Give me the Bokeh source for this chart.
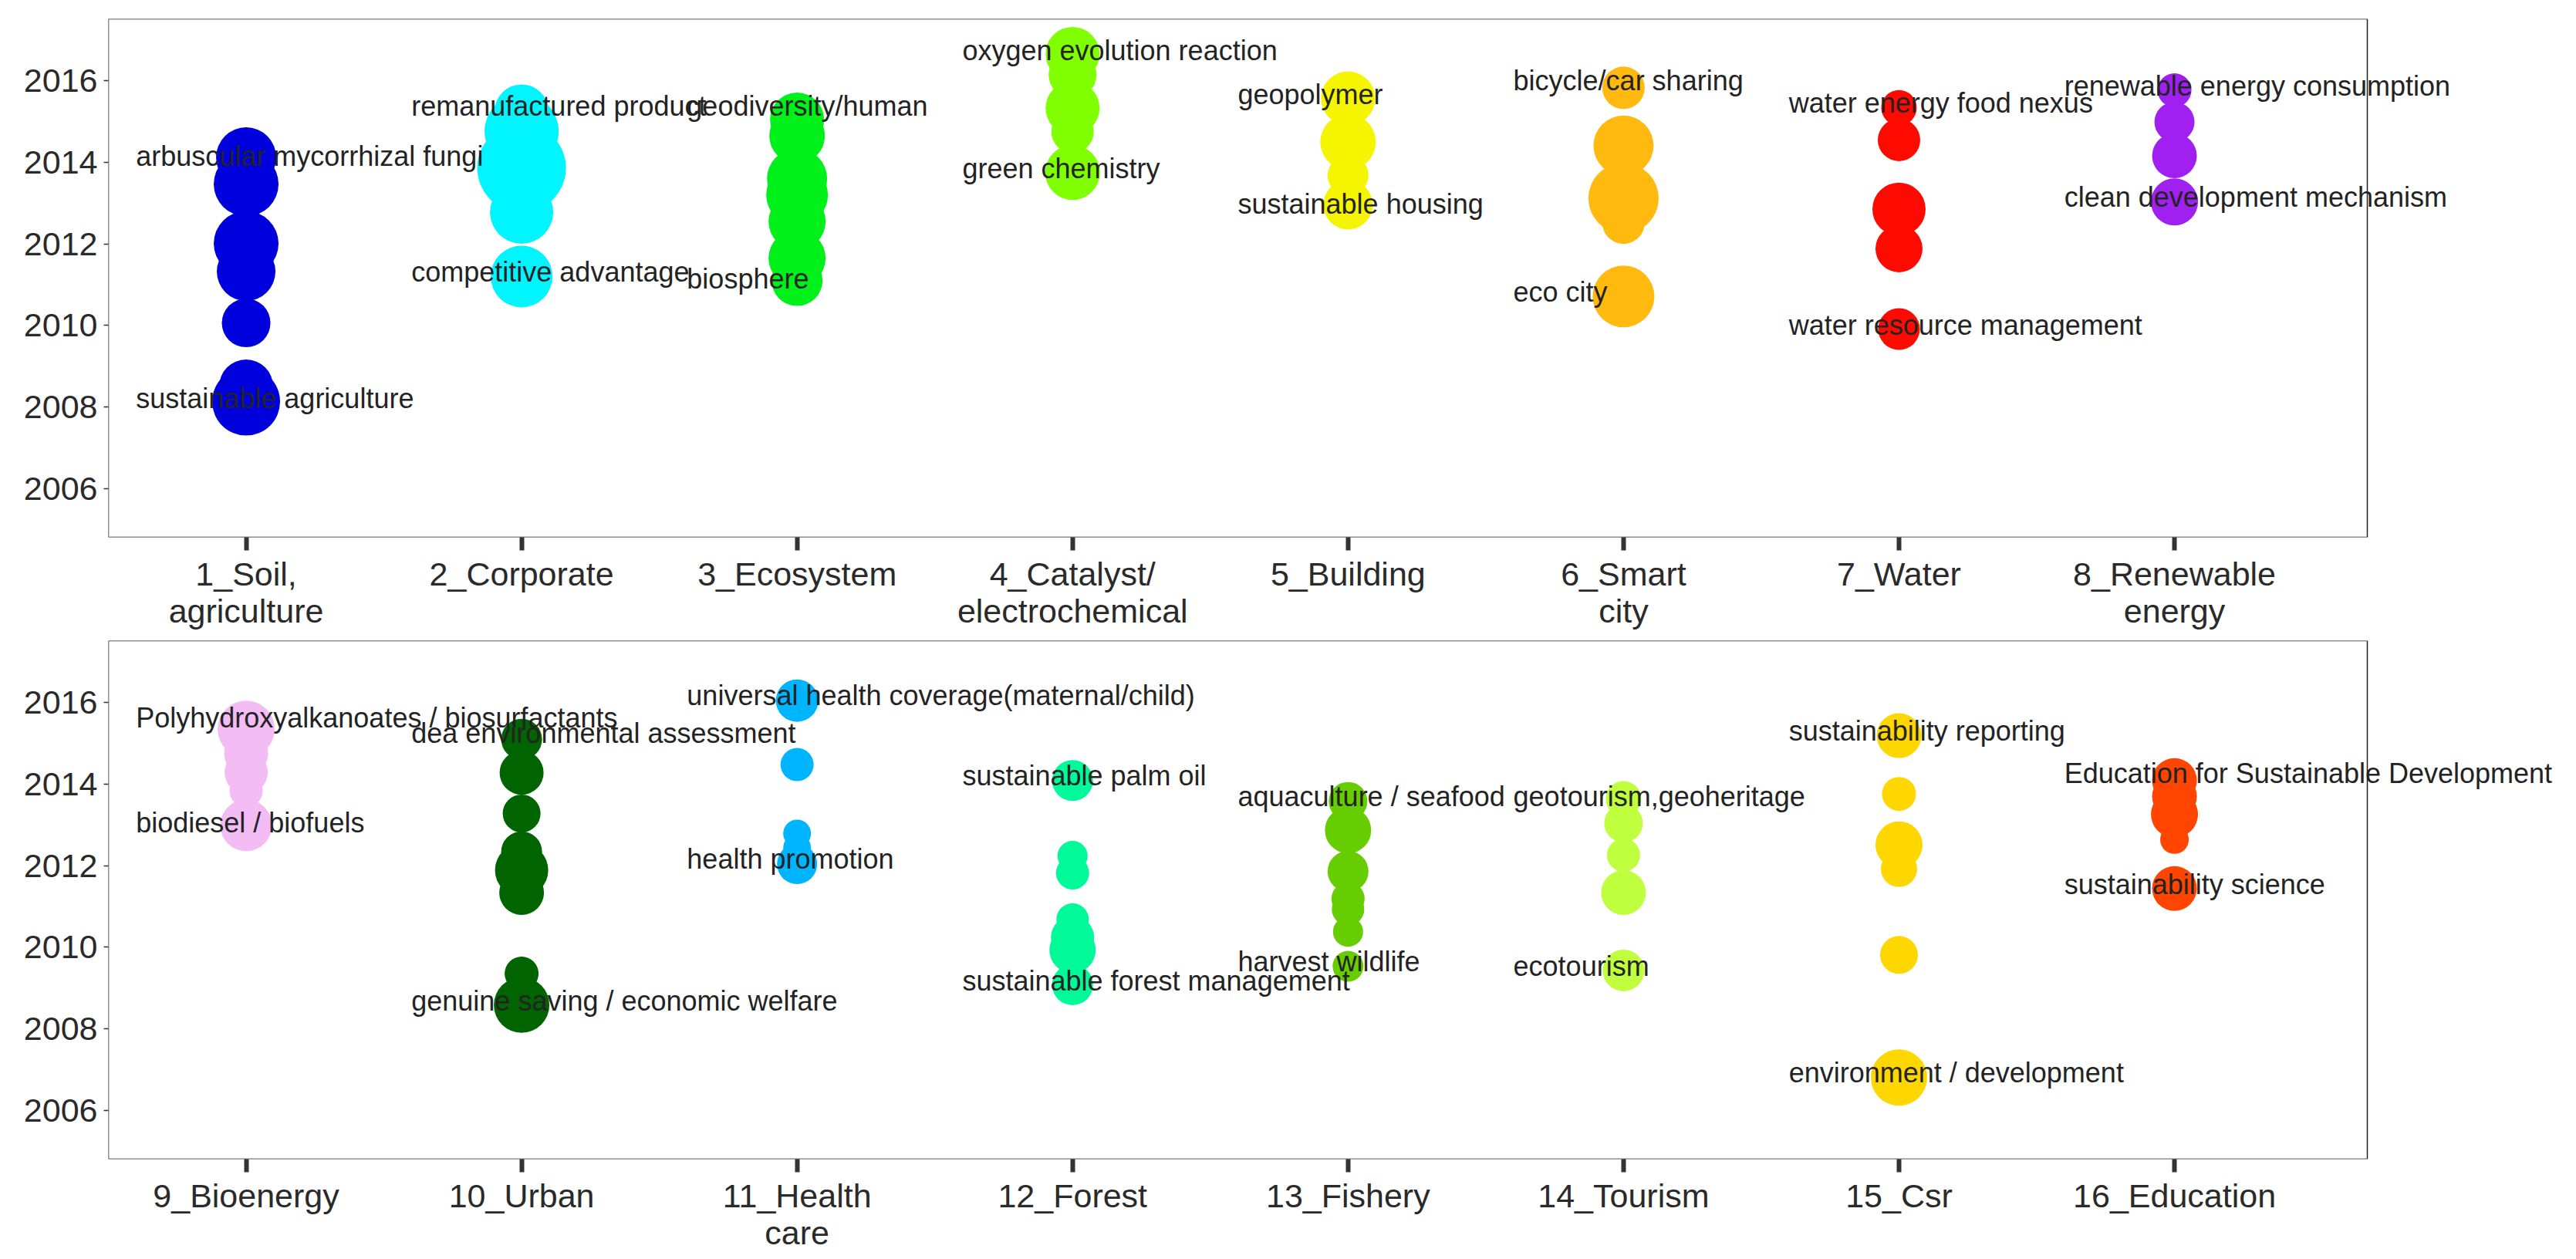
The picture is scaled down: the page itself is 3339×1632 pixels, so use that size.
from bokeh.plotting import figure
from bokeh.models import ColumnDataSource, LabelSet, FixedTicker, Range1d, BoxAnnotation
from bokeh.layouts import column
from bokeh.core.properties import value
from bokeh.embed import file_html
from bokeh.resources import INLINE

# ---------------- data ----------------
cluster_names = [
    "1_Soil,\nagriculture", "2_Corporate", "3_Ecosystem", "4_Catalyst/\nelectrochemical",
    "5_Building", "6_Smart\ncity", "7_Water", "8_Renewable\nenergy",
    "9_Bioenergy", "10_Urban", "11_Health\ncare", "12_Forest",
    "13_Fishery", "14_Tourism", "15_Csr", "16_Education",
]
cluster_colors = [
    "#0000DD", "#00F5FF", "#00F019", "#7FFF00", "#F5F500", "#FFB90F", "#FF0A00", "#A020F0",
    "#F4BCF4", "#006400", "#00B5FF", "#00FA9A", "#66CD00", "#C0FF3E", "#FFD700", "#FF4500",
]

bubble_cluster = (
    [1] * 7 + [2] * 5 + [3] * 7 + [4] * 5 + [5] * 4 + [6] * 5 + [7] * 5 + [8] * 4 +
    [9] * 5 + [10] * 8 + [11] * 5 + [12] * 7 + [13] * 7 + [14] * 5 + [15] * 6 + [16] * 5
)
bubble_year = [
    2014.12, 2013.47, 2012.01, 2011.32, 2010.06, 2008.5, 2008.13,
    2015.25, 2014.76, 2013.86, 2012.78, 2011.2,
    2015.05, 2014.65, 2013.6, 2013.2, 2012.55, 2011.65, 2011.1,
    2016.66, 2016.15, 2015.33, 2014.75, 2013.75,
    2015.57, 2014.5, 2013.68, 2012.96,
    2015.83, 2014.41, 2013.12, 2012.52, 2010.71,
    2015.34, 2014.55, 2012.85, 2011.88, 2009.91,
    2015.77, 2014.99, 2014.16, 2013.03,
    2015.35, 2014.75, 2014.29, 2013.84, 2012.99,
    2015.1, 2014.28, 2013.28, 2012.34, 2011.89, 2011.34, 2009.35, 2008.58,
    2016.05, 2014.48, 2012.79, 2012.44, 2012.04,
    2014.09, 2012.24, 2011.82, 2010.68, 2010.24, 2009.93, 2009.08,
    2013.58, 2012.87, 2011.86, 2011.19, 2010.93, 2010.38, 2009.53,
    2013.64, 2013.04, 2012.26, 2011.34, 2009.43,
    2015.19, 2013.76, 2012.51, 2011.92, 2009.81, 2006.80,
    2014.09, 2013.7, 2013.26, 2012.64, 2011.44,
]
bubble_size = [
    78, 84, 84, 76, 63, 70, 88,
    70, 96, 115, 82, 80,
    70, 72, 78, 80, 74, 74, 66,
    70, 62, 70, 55, 71,
    70, 72, 53, 64,
    55, 78, 91, 55, 80,
    46, 55, 69, 61, 54,
    44, 52, 58, 61,
    74, 57, 56, 43, 67,
    53, 57, 49, 53, 69, 58, 44, 72,
    55, 43, 36, 36, 52,
    53, 39, 43, 42, 56, 60, 53,
    50, 60, 53, 43, 42, 39, 40,
    46, 50, 43, 58, 54,
    58, 44, 61, 47, 49, 73,
    58, 58, 61, 37, 58,
]

label_cluster = [1, 1, 2, 2, 3, 3, 4, 4, 5, 5, 6, 6, 7, 7, 8, 8,
                 9, 9, 10, 10, 11, 11, 12, 12, 13, 13, 14, 14, 15, 15, 16, 16]
label_year = [
    2014.16, 2008.2, 2015.39, 2011.31, 2015.39, 2011.14, 2016.75, 2013.85,
    2015.66, 2012.98, 2016.0, 2010.81, 2015.45, 2010.0, 2015.87, 2013.15,
    2015.63, 2013.06, 2015.25, 2008.68, 2016.17, 2012.17, 2014.21, 2009.18,
    2013.69, 2009.65, 2013.69, 2009.53, 2015.3, 2006.92, 2014.26, 2011.54,
]
label_text = [
    "arbuscular mycorrhizal fungi", "sustainable agriculture",
    "remanufactured product", "competitive advantage",
    "geodiversity/human", "biosphere",
    "oxygen evolution reaction", "green chemistry",
    "geopolymer", "sustainable housing",
    "bicycle/car sharing", "eco city",
    "water energy food nexus", "water resource management",
    "renewable energy consumption", "clean development mechanism",
    "Polyhydroxyalkanoates / biosurfactants", "biodiesel / biofuels",
    "dea environmental assessment", "genuine saving / economic welfare",
    "universal health coverage(maternal/child)", "health promotion",
    "sustainable palm oil", "sustainable forest management",
    "aquaculture / seafood", "harvest wildlife",
    "geotourism,geoheritage", "ecotourism",
    "sustainability reporting", "environment / development",
    "Education for Sustainable Development", "sustainability science",
]

year_ticks = [2006, 2008, 2010, 2012, 2014, 2016]
year_range = (2004.8, 2017.52)
cat_range = (0.5, 8.7)

FONT = "Liberation Sans"
PX_PER_CAT = 2928 / (cat_range[1] - cat_range[0])
FRAME_W = 3185


def make_panel(panel, min_top, min_bottom):
    lo = panel * 8 + 1
    hi = lo + 7
    bx, by, bs, bc = [], [], [], []
    for c, y, s in zip(bubble_cluster, bubble_year, bubble_size):
        if lo <= c <= hi:
            bx.append(c - lo + 1)
            by.append(y)
            bs.append(s)
            bc.append(cluster_colors[c - 1])
    lx, ly, lt = [], [], []
    for c, y, t in zip(label_cluster, label_year, label_text):
        if lo <= c <= hi:
            lx.append(c - lo + 1 - 0.4)
            ly.append(y)
            lt.append(t)

    # frame extended to the right so that long labels are not clipped;
    # the visible panel border is drawn with a box at the real panel limits
    x_end = cat_range[0] + FRAME_W / PX_PER_CAT
    p = figure(
        frame_width=FRAME_W, frame_height=672,
        x_range=Range1d(cat_range[0], x_end), y_range=Range1d(*year_range),
        output_backend="svg", toolbar_location=None,
        min_border_left=140, min_border_right=4,
        min_border_top=min_top, min_border_bottom=min_bottom,
    )
    p.scatter(x=bx, y=by, size=bs, fill_color=bc, line_color=None,
              marker="circle")
    src = ColumnDataSource(dict(x=lx, y=ly, t=lt))
    p.add_layout(LabelSet(x="x", y="y", text="t", source=src,
                          text_align="left", text_baseline="middle",
                          text_font=value(FONT), text_font_size=value("36px"),
                          text_color=value("#232323")))
    p.add_layout(BoxAnnotation(left=cat_range[0], right=cat_range[1],
                               bottom=year_range[0], top=year_range[1],
                               fill_alpha=0, fill_color=None,
                               line_color="#222222", line_alpha=1.0,
                               line_width=1.5, line_dash="solid"))

    p.xgrid.visible = False
    p.ygrid.visible = False
    p.outline_line_color = None
    p.background_fill_color = "white"
    p.border_fill_color = "white"

    xa = p.xaxis[0]
    xa.ticker = FixedTicker(ticks=list(range(1, 9)))
    xa.major_label_overrides = {i + 1: cluster_names[lo - 1 + i] for i in range(8)}
    xa.axis_line_color = None
    xa.major_tick_line_color = "#333333"
    xa.major_tick_line_width = 6
    xa.major_tick_out = 17
    xa.major_tick_in = 0
    xa.minor_tick_line_color = None
    xa.major_label_text_font = FONT
    xa.major_label_text_font_size = "43px"
    xa.major_label_text_line_height = 1.0
    xa.major_label_text_color = "#2A2A2A"
    xa.major_label_standoff = 6

    ya = p.yaxis[0]
    ya.ticker = FixedTicker(ticks=year_ticks)
    ya.axis_line_color = None
    ya.major_tick_line_color = "#333333"
    ya.major_tick_line_width = 1.5
    ya.major_tick_out = 6
    ya.major_tick_in = 0
    ya.minor_tick_line_color = None
    ya.major_label_text_font = FONT
    ya.major_label_text_font_size = "43px"
    ya.major_label_text_color = "#2A2A2A"
    ya.major_label_standoff = 8
    return p


p1 = make_panel(0, 24, 130)
p2 = make_panel(1, 4, 110)
layout = column(p1, p2, spacing=0)

open("out.html", "w").write(file_html(layout, INLINE))
